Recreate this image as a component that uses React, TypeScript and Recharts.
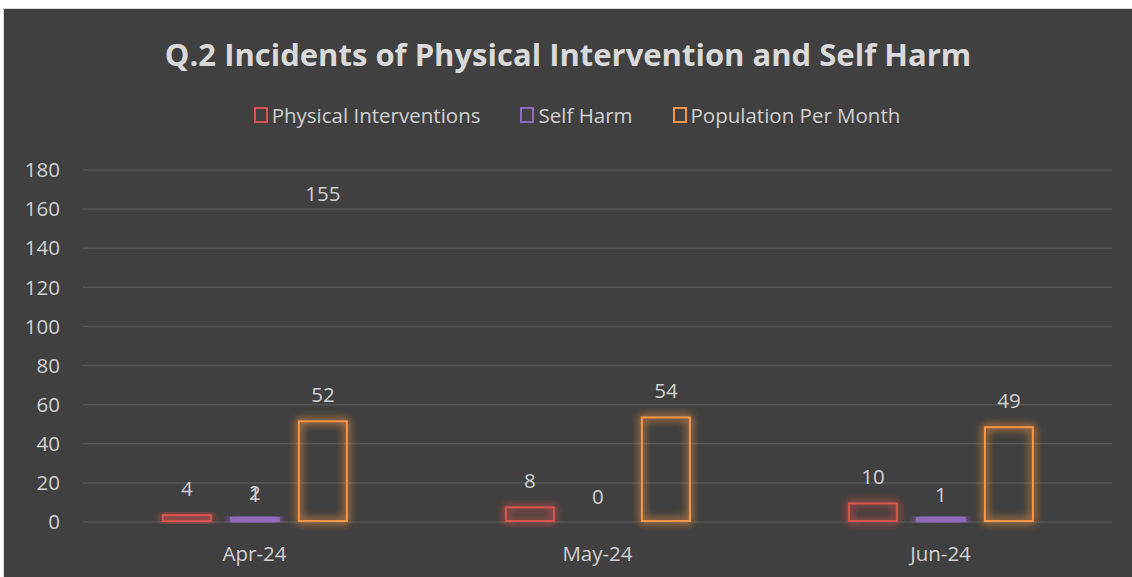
import { Bar, BarChart, CartesianGrid, LabelList, Legend, XAxis, YAxis } from 'recharts'

const months = ['Apr-24', 'May-24', 'Jun-24']
const physicalInterventions = [4, 8, 10]
const selfHarm = [1, 0, 1]
const populationPerMonth = [52, 54, 49]
// stray labels left over in the source chart (totals), drawn without a bar
const selfHarmExtra = [2, null, null]
const populationExtra = [155, null, null]
const yTicks = [0, 20, 40, 60, 80, 100, 120, 140, 160, 180]

const series = [
  { key: 'pi', name: 'Physical Interventions', color: '#D9534F' },
  { key: 'sh', name: 'Self Harm', color: '#8E6BBF' },
  { key: 'pop', name: 'Population Per Month', color: '#F79646' },
]

const data = months.map((m, i) => ({
  month: m,
  pi: physicalInterventions[i],
  sh: selfHarm[i],
  pop: populationPerMonth[i],
  piX: null,
  shX: selfHarmExtra[i],
  popX: populationExtra[i],
}))

const font = '"Open Sans", sans-serif'
const textColor = '#D0D0D0'

function GlowBar(props: any) {
  const { x, y, width, height, color } = props
  if (width == null || height == null || height <= 0) return null
  const thin = height <= 4
  return (
    <rect
      x={x + 1}
      y={thin ? y + height - 4 : y + 1}
      width={Math.max(width - 2, 0)}
      height={thin ? 3 : height - 2}
      fill={thin ? color : 'none'}
      stroke={color}
      strokeWidth={2}
      filter="url(#glow)"
    />
  )
}

function LegendContent() {
  return (
    <div
      style={{
        display: 'flex',
        justifyContent: 'center',
        gap: 40,
        fontFamily: font,
        fontSize: 20.5,
        color: textColor,
        paddingLeft: 18,
      }}
    >
      {series.map((s) => (
        <div key={s.key} style={{ display: 'flex', alignItems: 'center' }}>
          <span
            style={{
              display: 'inline-block',
              width: 10,
              height: 12,
              border: `2px solid ${s.color}`,
              marginRight: 4,
            }}
          />
          {s.name}
        </div>
      ))}
    </div>
  )
}

export default function App() {
  return (
    <div>
      <style>{'body{margin:0;overflow:hidden;}'}</style>
      <div
        style={{
          position: 'absolute',
          left: 3,
          top: 8,
          width: 1129,
          height: 569,
          background: '#404040',
          borderTop: '1px solid #D9D9D9',
          borderLeft: '1px solid #D9D9D9',
          boxSizing: 'border-box',
        }}
      >
        <div
          style={{
            position: 'absolute',
            left: 0,
            right: 0,
            top: 24,
            textAlign: 'center',
            fontFamily: font,
            fontWeight: 700,
            fontSize: 31,
            color: '#D9D9D9',
          }}
        >
          Q.2 Incidents of Physical Intervention and Self Harm
        </div>
        <BarChart
          width={1128}
          height={568}
          data={data}
          margin={{ top: 133, right: 20, left: 0, bottom: 25 }}
          barCategoryGap="23%"
          barGap={18}
        >
          <defs>
            <filter id="glow" x="-50%" y="-50%" width="200%" height="200%">
              <feGaussianBlur in="SourceGraphic" stdDeviation="4" result="b" />
              <feMerge>
                <feMergeNode in="b" />
                <feMergeNode in="b" />
                <feMergeNode in="SourceGraphic" />
              </feMerge>
            </filter>
          </defs>
          <CartesianGrid vertical={false} stroke="#555555" strokeWidth={1.5} />
          <XAxis
            dataKey="month"
            axisLine={false}
            tickLine={false}
            tickSize={0}
            tickMargin={24}
            height={30}
            tick={{ fill: textColor, fontFamily: font, fontSize: 20.5 }}
          />
          <XAxis xAxisId="extra" dataKey="month" hide />
          <YAxis
            domain={[0, 180]}
            ticks={yTicks}
            axisLine={false}
            tickLine={false}
            tickSize={0}
            tickMargin={23}
            width={79}
            tick={{ fill: textColor, fontFamily: font, fontSize: 20.5 }}
          />
          <Legend
            verticalAlign="top"
            wrapperStyle={{ top: 92, left: 0, width: 1128 }}
            content={<LegendContent />}
          />
          {series.map((s) => (
            <Bar
              key={s.key}
              dataKey={s.key}
              name={s.name}
              fill={s.color}
              isAnimationActive={false}
              shape={(p: any) => <GlowBar {...p} color={s.color} />}
            >
              <LabelList
                dataKey={s.key}
                position="top"
                offset={18}
                fill={textColor}
                fontFamily={font}
                fontSize={20.5}
              />
            </Bar>
          ))}
          {series.map((s) => (
            <Bar
              key={s.key + 'X'}
              xAxisId="extra"
              dataKey={s.key + 'X'}
              legendType="none"
              fill="transparent"
              isAnimationActive={false}
            >
              <LabelList
                dataKey={s.key + 'X'}
                position="top"
                offset={18}
                fill={textColor}
                fontFamily={font}
                fontSize={20.5}
              />
            </Bar>
          ))}
        </BarChart>
      </div>
    </div>
  )
}
